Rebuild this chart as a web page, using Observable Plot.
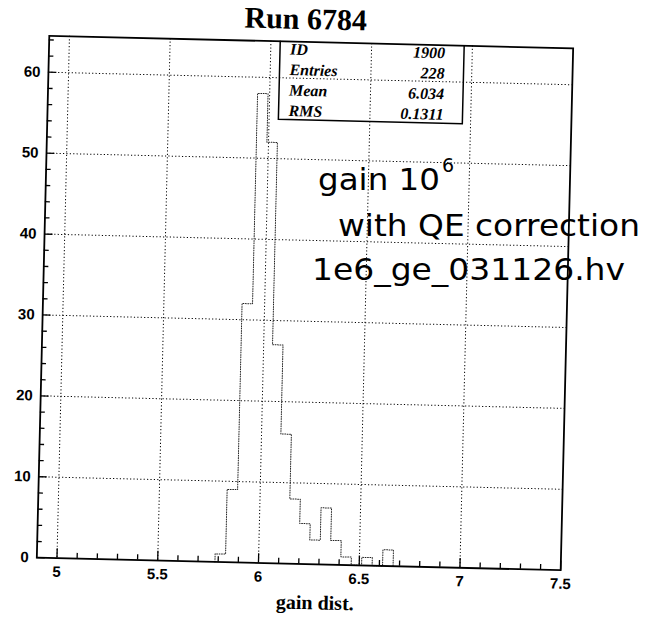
<!DOCTYPE html>
<html>
<head>
<meta charset="utf-8">
<script src="https://cdn.jsdelivr.net/npm/d3@7"></script>
<script src="https://cdn.jsdelivr.net/npm/@observablehq/plot@0.6"></script>
<style>
  html, body { margin: 0; padding: 0; background: #fff; }
  #page { position: relative; width: 650px; height: 625px; overflow: hidden; background: #fff; }
  /* the printed sheet sits slightly skewed on the scanner */
  #sheet { position: absolute; left: 0; top: 0; width: 650px; height: 625px;
           transform-origin: 304.5px 302.5px; transform: rotate(1.37deg); }
  #note { position: absolute; left: 0; top: 0; }
</style>
</head>
<body>
<div id="page">
  <div id="sheet"></div>
  <svg id="note" width="650" height="625"></svg>
</div>
<script>
// Histogram "gain dist." — 50 bins of width 0.052 over [4.9, 7.5]; only filled bins listed
const runTitle = "Run 6784";
const xTitle = "gain dist.";
const binWidth = 0.052;
const binLeft = [5.784, 5.836, 5.888, 5.94, 5.992, 6.044, 6.096, 6.148, 6.2,
                 6.252, 6.304, 6.356, 6.408, 6.46, 6.512, 6.564, 6.616];
const counts  = [1, 9, 32, 58, 52, 27, 16, 8, 5,
                 3, 7, 3, 1, 0, 1, 0, 2];

// axis ticks
const xMajor = [5, 5.5, 6, 6.5, 7, 7.5];
const xMinor = [5.1, 5.2, 5.3, 5.4, 5.6, 5.7, 5.8, 5.9, 6.1, 6.2, 6.3, 6.4,
                6.6, 6.7, 6.8, 6.9, 7.1, 7.2, 7.3, 7.4];
const yMajor = [0, 10, 20, 30, 40, 50, 60];
const yMinor = [2, 4, 6, 8, 12, 14, 16, 18, 22, 24, 26, 28, 32, 34, 36, 38,
                42, 44, 46, 48, 52, 54, 56, 58, 62, 64];

// statistics box
const statLabels = ["ID", "Entries", "Mean", "RMS"];
const statValues = ["1900", "228", "6.034", "0.1311"];

// handwritten notes on the printout
const noteLines = ["gain 10", "with QE correction", "1e6_ge_031126.hv"];
const noteExponent = "6";

// outline of the histogram as a step contour
const steps = [{x: binLeft[0], y: 0},
  ...binLeft.map((x, i) => ({x, y: counts[i]})),
  {x: binLeft[binLeft.length - 1] + binWidth, y: 0}];

const dotted = {stroke: "#000", strokeWidth: 1, strokeDasharray: "1.2,2.2"};
const tickStyle = {stroke: "#000", strokeWidth: 1.3};

const chart = Plot.plot({
  width: 650,
  height: 625,
  marginTop: 41.5,
  marginBottom: 61.5,
  marginLeft: 42.5,
  marginRight: 83.5,
  x: {domain: [4.9, 7.5]},
  y: {domain: [0, 64.5]},
  style: {
    fontFamily: "'Liberation Sans', Arial, sans-serif",
    fontSize: "15px",
    fontWeight: "bold",
    color: "#000",
    background: "transparent",
    overflow: "visible"
  },
  marks: [
    // dotted grid
    Plot.ruleX(xMajor.filter(v => v < 7.5), dotted),
    Plot.ruleY(yMajor.filter(v => v > 0), dotted),
    // histogram
    Plot.line(steps, {x: "x", y: "y", curve: "step-after",
      stroke: "#222", strokeWidth: 1, strokeDasharray: "1,1.4"}),
    // inward ticks
    Plot.ruleX(xMinor, {y1: 0, y2: 0.65, ...tickStyle}),
    Plot.ruleX(xMajor, {y1: 0, y2: 1.15, ...tickStyle}),
    Plot.ruleY(yMinor, {x1: 4.9, x2: 4.925, ...tickStyle}),
    Plot.ruleY(yMajor, {x1: 4.9, x2: 4.942, ...tickStyle}),
    Plot.frame({stroke: "#000", strokeWidth: 1.8}),
    Plot.axisX({ticks: xMajor, tickSize: 0, tickPadding: 8,
      tickFormat: d => String(d), label: null}),
    Plot.axisY({ticks: yMajor, tickSize: 0, tickPadding: 8,
      tickFormat: d => String(d), label: null})
  ]
});

document.getElementById("sheet").appendChild(chart);

// titles and statistics box drawn into the same SVG
const svg = d3.select(chart);
const serif = "'Liberation Serif', 'Times New Roman', serif";

svg.append("text")
  .attr("x", 299).attr("y", 29)
  .attr("text-anchor", "middle")
  .style("font-family", serif).style("font-size", "30px").style("font-weight", "bold")
  .attr("fill", "#000")
  .text(runTitle);

svg.append("text")
  .attr("x", 322).attr("y", 609)
  .attr("text-anchor", "middle")
  .style("font-family", serif).style("font-size", "20px").style("font-weight", "bold")
  .attr("fill", "#000")
  .text(xTitle);

const box = {left: 274, top: 41.5, right: 458, bottom: 120};
svg.append("path")
  .attr("d", `M${box.left},${box.top}V${box.bottom}H${box.right}V${box.top}`)
  .attr("fill", "none").attr("stroke", "#000").attr("stroke-width", 1.5);

const rowBase = [55, 75.5, 96, 116.5];
statLabels.forEach((lab, i) => {
  svg.append("text")
    .attr("x", box.left + 10).attr("y", rowBase[i])
    .attr("text-anchor", "start")
    .style("font-family", serif).style("font-size", "16px")
    .style("font-weight", "bold").style("font-style", "italic")
    .attr("fill", "#000").text(lab);
  svg.append("text")
    .attr("x", 439).attr("y", rowBase[i])
    .attr("text-anchor", "end")
    .style("font-family", serif).style("font-size", "16px")
    .style("font-weight", "bold").style("font-style", "italic")
    .attr("fill", "#000").text(statValues[i]);
});

// handwritten annotation
const note = d3.select("#note");
const hand = "'DejaVu Sans', 'Noto Sans', sans-serif";
const noteSpec = [
  {x: 318, y: 190, len: 122},
  {x: 338, y: 236, len: 302},
  {x: 312, y: 280, len: 313}
];
noteLines.forEach((line, i) => {
  note.append("text")
    .attr("x", noteSpec[i].x).attr("y", noteSpec[i].y)
    .attr("textLength", noteSpec[i].len)
    .attr("lengthAdjust", "spacingAndGlyphs")
    .style("font-family", hand).style("font-size", "30px").style("font-weight", "normal")
    .attr("fill", "#000")
    .text(line);
});
note.append("text")
  .attr("x", 442).attr("y", 172)
  .style("font-family", hand).style("font-size", "19px").style("font-weight", "normal")
  .attr("fill", "#000")
  .text(noteExponent);
</script>
</body>
</html>
